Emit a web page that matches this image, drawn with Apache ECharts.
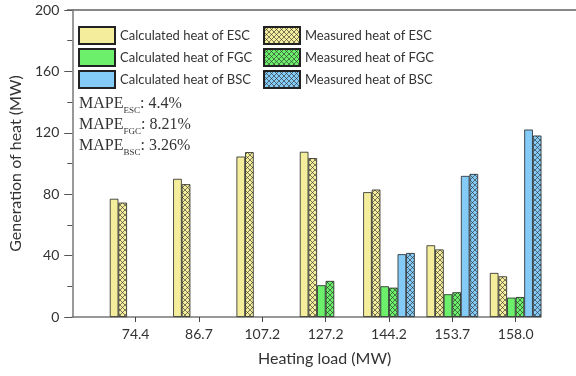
<!DOCTYPE html>
<html>
<head>
<meta charset="utf-8">
<script src="https://cdn.jsdelivr.net/npm/echarts@6/dist/echarts.min.js"></script>
<style>
    html, body { margin: 0; padding: 0; background: #fff; }
    #heatCharts { width: 576px; height: 376px; }
</style>
</head>
<body>
<div id="heatCharts"></div>
<script>
    // heating load categories and generated heat (MW)
    const categories = ['74.4', '86.7', '107.2', '127.2', '144.2', '153.7', '158.0']
    const escCalc = [77, 90, 104.5, 107.6, 81.3, 46.7, 28.7]
    const escMeas = [74.5, 86.5, 107.4, 103.5, 83, 44, 26.5]
    const fgcCalc = [null, null, null, 20.7, 20, 14.8, 12.6]
    const fgcMeas = [null, null, null, 23.5, 19.1, 16.1, 13]
    const bscCalc = [null, null, null, null, 40.9, 91.9, 122.1]
    const bscMeas = [null, null, null, null, 41.7, 93.2, 118.2]
    const yTicks = [0, 40, 80, 120, 160, 200]
    const mapeNames = ['ESC', 'FGC', 'BSC']
    const mapeValues = ['4.4%', '8.21%', '3.26%']

    const colors = { ESC: '#F4EE9C', FGC: '#6CF06C', BSC: '#84CBF8' }

    // cross hatch fill
    function hatch(base) {
        const c = document.createElement('canvas')
        c.width = 5
        c.height = 5
        const ctx = c.getContext('2d')
        ctx.fillStyle = base
        ctx.fillRect(0, 0, 5, 5)
        ctx.strokeStyle = 'rgba(40,40,40,0.75)'
        ctx.lineWidth = 0.8
        ctx.beginPath()
        ctx.moveTo(-1, -1); ctx.lineTo(6, 6)
        ctx.moveTo(6, -1); ctx.lineTo(-1, 6)
        ctx.stroke()
        return { image: c, repeat: 'repeat' }
    }

    function toPoints(arr) {
        return arr.map((v, i) => [i + 1, v])
    }

    function barSeries(name, arr, fill) {
        return {
            name: name,
            type: 'bar',
            data: toPoints(arr),
            barWidth: 8.6,
            barGap: '0%',
            itemStyle: {
                color: fill,
                borderColor: '#222',
                borderWidth: 0.8
            }
        }
    }

    const font = 'Lato, "Open Sans", sans-serif'
    const tickIdx = categories.map((c, i) => i + 1)

    const mapeText = mapeNames.map((n, i) => ({
        type: 'text',
        left: 79,
        top: 96 + i * 21,
        style: {
            text: '{m|MAPE}{s|' + n + '}{m|: ' + mapeValues[i] + '}',
            rich: {
                m: { fontFamily: '"Liberation Serif", serif', fontSize: 16, fill: '#333', lineHeight: 18, verticalAlign: 'bottom' },
                s: { fontFamily: '"Liberation Serif", serif', fontSize: 9, fill: '#333', lineHeight: 18, verticalAlign: 'bottom', padding: [0, 0, -3, 0] }
            }
        }
    }))

    const legendBase = {
        orient: 'vertical',
        top: 26,
        padding: 0,
        itemWidth: 36, itemHeight: 17, itemGap: 3,
        icon: 'rect',
        textStyle: { fontFamily: font, fontSize: 13, color: '#333' }
    }

    const option = {
        animation: false,
        grid: { left: 68, right: 35, top: 10, bottom: 59 },
        legend: [
            Object.assign({}, legendBase, {
                left: 78,
                data: ['Calculated heat of ESC', 'Calculated heat of FGC', 'Calculated heat of BSC']
            }),
            Object.assign({}, legendBase, {
                left: 263,
                data: ['Measured heat of ESC', 'Measured heat of FGC', 'Measured heat of BSC']
            })
        ],
        xAxis: {
            type: 'value',
            min: 0,
            max: 7.4,
            name: 'Heating load (MW)',
            nameLocation: 'middle',
            nameGap: 34,
            nameTextStyle: { fontFamily: font, fontSize: 16, color: '#333', padding: [0, 0, 0, 36] },
            axisLine: { show: true, lineStyle: { color: '#777', width: 1.5 } },
            axisTick: { show: true, length: 5, customValues: tickIdx, lineStyle: { color: '#444' } },
            axisLabel: {
                customValues: tickIdx,
                margin: 10,
                fontFamily: font, fontSize: 14, color: '#333',
                formatter: (v) => categories[Math.round(v) - 1] || ''
            },
            splitLine: { show: false }
        },
        yAxis: {
            type: 'value',
            min: yTicks[0],
            max: yTicks[yTicks.length - 1],
            interval: 40,
            name: 'Generation of heat (MW)',
            nameLocation: 'middle',
            nameGap: 45,
            nameTextStyle: { fontFamily: font, fontSize: 16, color: '#333' },
            axisLine: { show: true, lineStyle: { color: '#777', width: 1.5 } },
            axisTick: { show: true, length: 8, lineStyle: { color: '#555' } },
            minorTick: { show: true, splitNumber: 2, length: 5, lineStyle: { color: '#555' } },
            axisLabel: { margin: 13, fontFamily: font, fontSize: 14, color: '#333' },
            splitLine: { show: false }
        },
        graphic: [
            {
                type: 'line',
                shape: { x1: 67, y1: 10, x2: 576, y2: 10 },
                style: { stroke: '#888', lineWidth: 2 }
            }
        ].concat(mapeText),
        series: [
            barSeries('Calculated heat of ESC', escCalc, colors.ESC),
            barSeries('Measured heat of ESC', escMeas, hatch(colors.ESC)),
            barSeries('Calculated heat of FGC', fgcCalc, colors.FGC),
            barSeries('Measured heat of FGC', fgcMeas, hatch(colors.FGC)),
            barSeries('Calculated heat of BSC', bscCalc, colors.BSC),
            barSeries('Measured heat of BSC', bscMeas, hatch(colors.BSC))
        ]
    }

    const heatCharts = echarts.init(document.getElementById('heatCharts'))
    heatCharts.setOption(option)
    window.addEventListener('resize', () => heatCharts.resize())
</script>
</body>
</html>
